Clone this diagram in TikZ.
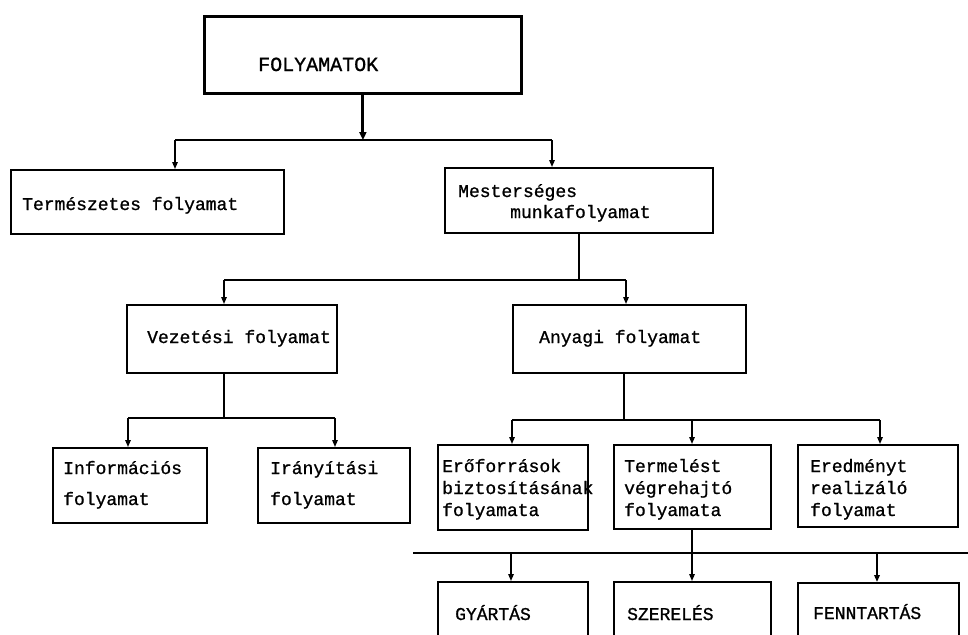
\documentclass[tikz,border=0pt]{standalone}
\usepackage{fontspec}
\usetikzlibrary{arrows.meta}
\newfontfamily\typewr[FakeBold=1]{Liberation Mono}
\begin{document}
\begin{tikzpicture}[x=1pt,y=-1pt,
  blk/.style={draw, line width=1.9pt, inner sep=0pt, anchor=north west},
  mainblk/.style={blk, line width=2.8pt},
  lbl/.style={font=\typewr\fontsize{18}{22}\selectfont, anchor=base west, inner sep=0pt},
  biglbl/.style={lbl, font=\typewr\fontsize{20}{24}\selectfont},
  link/.style={line width=1.4pt},
  arr/.style={link, -{Triangle[length=7pt,width=5.5pt]}},
  mainarr/.style={line width=3pt, -{Triangle[length=8pt,width=7pt]}}
]
\useasboundingbox (0,0) rectangle (968,634);
\clip (0,0) rectangle (968,634);

% boxes
\node[mainblk, minimum width=317pt, minimum height=77pt] (top) at (203,15) {};
\node[blk, minimum width=273pt, minimum height=64pt] (term) at (10,169) {};
\node[blk, minimum width=268pt, minimum height=65pt] (mest) at (444,167) {};
\node[blk, minimum width=210pt, minimum height=68pt] (vez) at (126,304) {};
\node[blk, minimum width=233pt, minimum height=68pt] (any) at (512,304) {};
\node[blk, minimum width=154pt, minimum height=75pt] (info) at (52,447) {};
\node[blk, minimum width=152pt, minimum height=75pt] (iran) at (257,447) {};
\node[blk, minimum width=150pt, minimum height=85pt] (ero) at (437,444) {};
\node[blk, minimum width=157pt, minimum height=84pt] (tmel) at (613,444) {};
\node[blk, minimum width=160pt, minimum height=82pt] (ered) at (797,444) {};
\node[blk, minimum width=150pt, minimum height=80pt] (gyar) at (437,581) {};
\node[blk, minimum width=157pt, minimum height=80pt] (szer) at (613,581) {};
\node[blk, minimum width=161pt, minimum height=80pt] (fenn) at (797,582) {};

% texts
\node[biglbl] (tTop) at (258,71) {FOLYAMATOK};
\node[lbl] (tTerm) at (22,210) {Természetes folyamat};
\node[lbl] (tMestA) at (458,197) {Mesterséges};
\node[lbl] (tMestB) at (510,218) {munkafolyamat};
\node[lbl] (tVez) at (147,343) {Vezetési folyamat};
\node[lbl] (tAny) at (539,343) {Anyagi folyamat};
\node[lbl] (tInfoA) at (63,474) {Információs};
\node[lbl] (tInfoB) at (63,505) {folyamat};
\node[lbl] (tIranA) at (270,474) {Irányítási};
\node[lbl] (tIranB) at (270,505) {folyamat};
\node[lbl] (tEroA) at (442,472) {Erőforrások};
\node[lbl] (tEroB) at (442,494) {biztosításának};
\node[lbl] (tEroC) at (442,516) {folyamata};
\node[lbl] (tTmelA) at (624,472) {Termelést};
\node[lbl] (tTmelB) at (624,494) {végrehajtó};
\node[lbl] (tTmelC) at (624,516) {folyamata};
\node[lbl] (tEredA) at (810,472) {Eredményt};
\node[lbl] (tEredB) at (810,494) {realizáló};
\node[lbl] (tEredC) at (810,516) {folyamat};
\node[lbl] (tGyar) at (455,620) {GYÁRTÁS};
\node[lbl] (tSzer) at (627,620) {SZERELÉS};
\node[lbl] (tFenn) at (813,619) {FENNTARTÁS};

% level 1
\coordinate (b1l) at (175,140);
\coordinate (b1r) at (552,140);
\draw[link] (b1l) -- (b1r);
\draw[mainarr] (top.south) -- (top.south |- b1l);
\draw[arr] (b1l) -- (b1l |- term.north);
\draw[arr] (b1r) -- (b1r |- mest.north);

% level 2
\coordinate (b2l) at (224,280);
\coordinate (b2r) at (626,280);
\draw[link] (mest.south) -- (mest.south |- b2l);
\draw[link] (b2l) -- (b2r);
\draw[arr] (b2l) -- (b2l |- vez.north);
\draw[arr] (b2r) -- (b2r |- any.north);

% level 3, left branch
\coordinate (s3l) at (224,418);
\coordinate (b3a) at (128,418);
\coordinate (b3b) at (335,418);
\draw[link] (s3l |- vez.south) -- (s3l);
\draw[link] (b3a) -- (b3b);
\draw[arr] (b3a) -- (b3a |- info.north);
\draw[arr] (b3b) -- (b3b |- iran.north);

% level 3, right branch
\coordinate (s3r) at (624,420);
\coordinate (b3c) at (512,420);
\coordinate (b3d) at (692,420);
\coordinate (b3e) at (880,420);
\draw[link] (s3r |- any.south) -- (s3r);
\draw[link] (b3c) -- (b3e);
\draw[arr] (b3c) -- (b3c |- ero.north);
\draw[arr] (b3d) -- (b3d |- tmel.north);
\draw[arr] (b3e) -- (b3e |- ered.north);

% level 4
\coordinate (b4l) at (413,553);
\coordinate (b4r) at (975,553);
\coordinate (b4a) at (511,553);
\coordinate (b4c) at (877,553);
\draw[link] (b4l) -- (b4r);
\draw[arr] (b3d |- tmel.south) -- (b3d |- szer.north);
\draw[arr] (b4a) -- (b4a |- gyar.north);
\draw[arr, line width=2pt] (b4c) -- (b4c |- fenn.north);
\end{tikzpicture}
\end{document}
